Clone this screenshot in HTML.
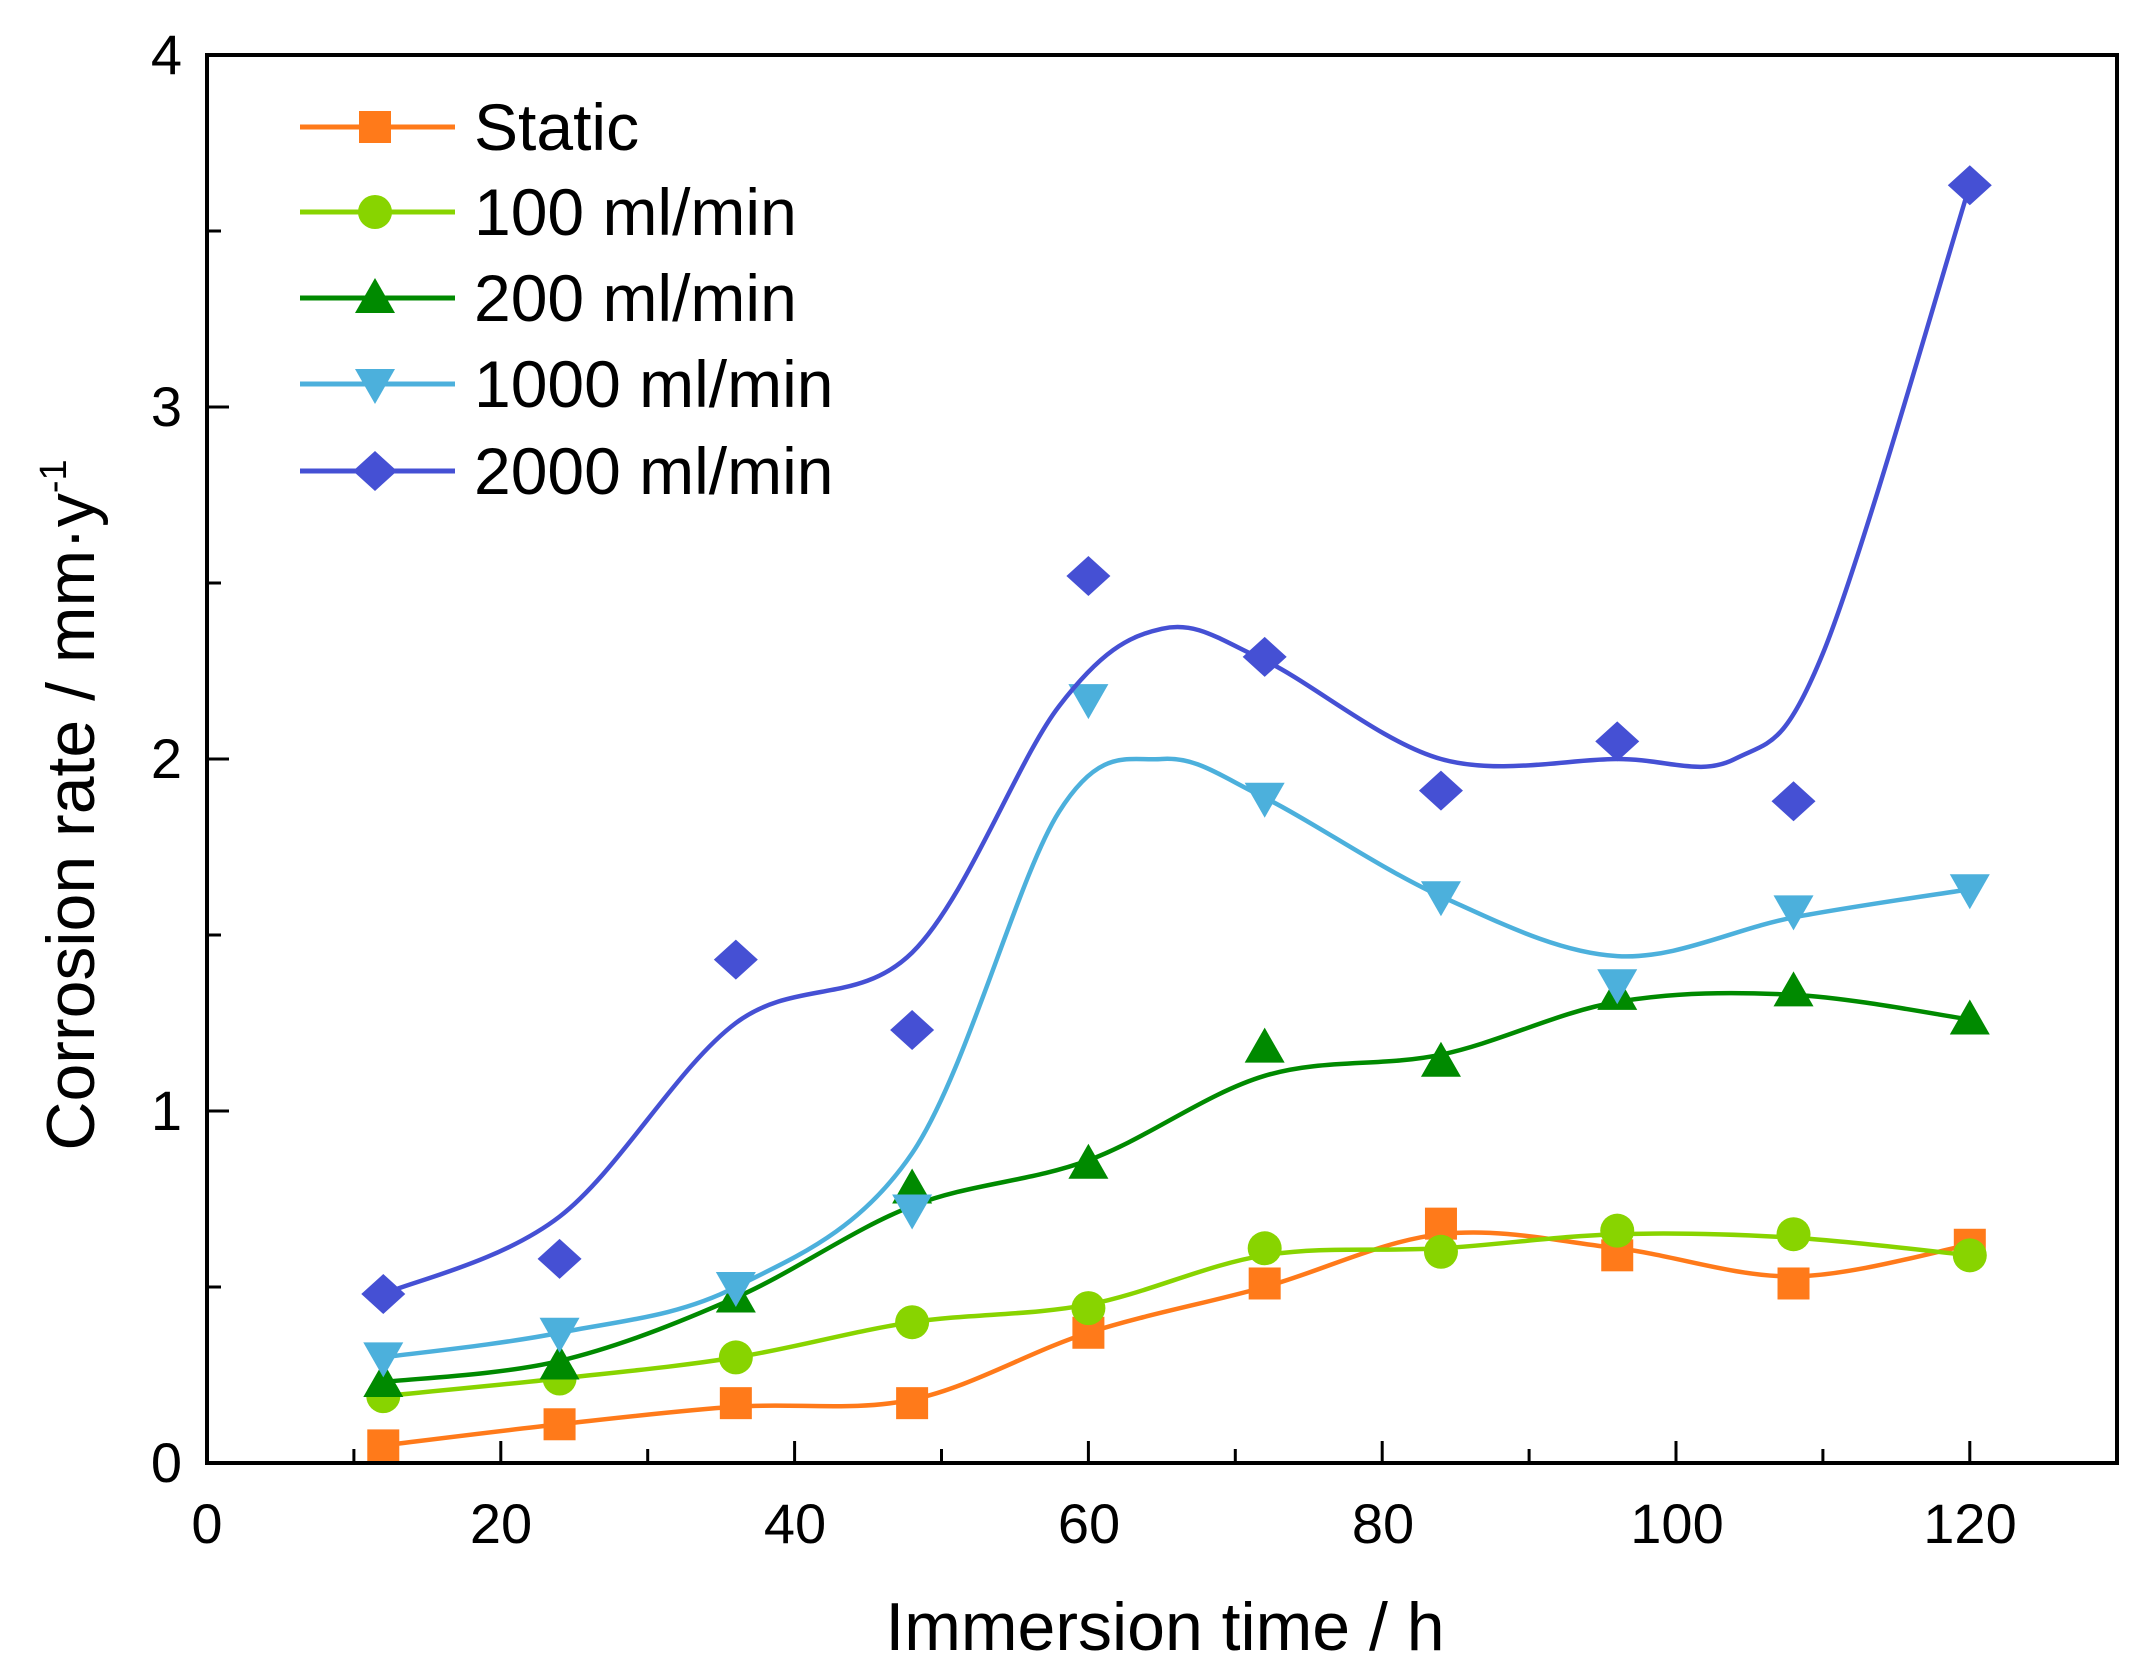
<!DOCTYPE html>
<html><head><meta charset="utf-8"><style>
html,body{margin:0;padding:0;background:#fff;}
svg{display:block;font-family:"Liberation Sans",Arial,sans-serif;}
</style></head><body>
<svg id="s" width="2149" height="1673" viewBox="0 0 2149 1673">
<rect width="2149" height="1673" fill="#fff"/>
<g id="ticks" stroke="#000" stroke-width="3"></g>
<g id="series"></g>
<rect x="207" y="55" width="1910" height="1408" fill="none" stroke="#000" stroke-width="4"/>
<g font-size="56" fill="#000" text-anchor="middle">
<text x="207" y="1543">0</text><text x="501" y="1543">20</text><text x="795" y="1543">40</text>
<text x="1089" y="1543">60</text><text x="1383" y="1543">80</text><text x="1677" y="1543">100</text><text x="1970" y="1543">120</text>
</g>
<g font-size="56" fill="#000" text-anchor="end">
<text x="182" y="1482">0</text><text x="182" y="1130">1</text><text x="182" y="778">2</text><text x="182" y="426">3</text><text x="182" y="74">4</text>
</g>
<text x="1165" y="1650" font-size="68" text-anchor="middle">Immersion time / h</text>
<text transform="translate(94,805) rotate(-90)" font-size="68" text-anchor="middle">Corrosion rate / mm·y<tspan dy="-28" font-size="38">-1</tspan></text>
<g id="legend" font-size="66" fill="#000"></g>
</svg>
<script>
var NS="http://www.w3.org/2000/svg";
function X(t){return 207+t*14.69;}
function Y(v){return 1463-v*352;}
function el(n,a,p){var e=document.createElementNS(NS,n);for(var k in a)e.setAttribute(k,a[k]);p.appendChild(e);return e;}
var tk=document.getElementById('ticks');
for(var t=10;t<130;t+=10){var L=(t%20==0)?22:14;el('line',{x1:X(t),x2:X(t),y1:1463,y2:1463-L},tk);}
for(var v=0.5;v<4;v+=0.5){var L=(Math.abs(v-Math.round(v))<0.01)?22:14;el('line',{x1:207,x2:207+L,y1:Y(v),y2:Y(v)},tk);}
var T=[12,24,36,48,60,72,84,96,108,120];
var S=[
{c:"#ff7a1a",m:"sq",p:[0.05,0.11,0.17,0.17,0.37,0.51,0.68,0.59,0.51,0.62],
 cv:[[12,0.05],[24,0.11],[36,0.16],[48,0.18],[60,0.37],[72,0.5],[84,0.65],[96,0.61],[108,0.53],[120,0.62]]},
{c:"#88d400",m:"ci",p:[0.19,0.24,0.30,0.40,0.44,0.61,0.60,0.66,0.65,0.59],
 cv:[[12,0.19],[24,0.24],[36,0.30],[48,0.40],[60,0.45],[72,0.59],[84,0.61],[96,0.65],[108,0.64],[120,0.59]]},
{c:"#008a00",m:"tu",p:[0.23,0.28,0.47,0.78,0.85,1.18,1.14,1.33,1.34,1.26],
 cv:[[12,0.23],[24,0.29],[36,0.47],[48,0.73],[60,0.86],[72,1.1],[84,1.16],[96,1.31],[108,1.33],[120,1.26]]},
{c:"#4cb0dc",m:"td",p:[0.30,0.37,0.50,0.72,2.17,1.89,1.61,1.36,1.57,1.63],
 cv:[[12,0.3],[24,0.37],[36,0.5],[48,0.88],[58,1.85],[65,2.0],[72,1.89],[84,1.61],[96,1.44],[108,1.55],[120,1.63]]},
{c:"#4550d4",m:"di",p:[0.48,0.58,1.43,1.23,2.52,2.29,1.91,2.05,1.88,3.63],
 cv:[[12,0.48],[24,0.7],[36,1.25],[48,1.45],[58,2.15],[65,2.37],[72,2.28],[84,2.0],[96,2.0],[104,2.0],[110,2.3],[120,3.63]]}
];
var g=document.getElementById('series');
function marker(type,x,y,c,p){
 var r=18;
 if(type=="sq")el('rect',{x:x-r+2,y:y-r+2,width:2*r-4,height:2*r-4,fill:c},p);
 else if(type=="ci")el('circle',{cx:x,cy:y,r:r-1,fill:c},p);
 else if(type=="tu")el('polygon',{points:(x)+","+(y-r-2)+" "+(x+r+2)+","+(y+r-3)+" "+(x-r-2)+","+(y+r-3),fill:c},p);
 else if(type=="td")el('polygon',{points:(x)+","+(y+r+2)+" "+(x+r+2)+","+(y-r+3)+" "+(x-r-2)+","+(y-r+3),fill:c},p);
 else el('polygon',{points:x+","+(y-r-2)+" "+(x+r+4)+","+y+" "+x+","+(y+r+2)+" "+(x-r-4)+","+y,fill:c},p);
}
function path(pts){
 var P=pts.map(function(a){return [X(a[0]),Y(a[1])];});
 var d="M"+P[0][0]+","+P[0][1];
 for(var i=0;i<P.length-1;i++){
  var p0=P[i-1]||P[i],p1=P[i],p2=P[i+1],p3=P[i+2]||P[i+1];
  var c1=[p1[0]+(p2[0]-p0[0])/6,p1[1]+(p2[1]-p0[1])/6];
  var c2=[p2[0]-(p3[0]-p1[0])/6,p2[1]-(p3[1]-p1[1])/6];
  d+=" C"+c1+" "+c2+" "+p2;
 }
 return d;
}
S.forEach(function(s){
 el('path',{d:path(s.cv),fill:"none",stroke:s.c,"stroke-width":4.5},g);
 s.p.forEach(function(v,i){marker(s.m,X(T[i]),Y(v),s.c,g);});
});
var lg=document.getElementById('legend');
var names=["Static","100 ml/min","200 ml/min","1000 ml/min","2000 ml/min"];
var ly=[127,212,298,384,471];
S.forEach(function(s,i){
 el('line',{x1:300,x2:455,y1:ly[i],y2:ly[i],stroke:s.c,"stroke-width":5},lg);
 marker(s.m,375,ly[i],s.c,lg);
 var t=el('text',{x:474,y:ly[i]+23},lg);t.textContent=names[i];
});
</script>
</body></html>
